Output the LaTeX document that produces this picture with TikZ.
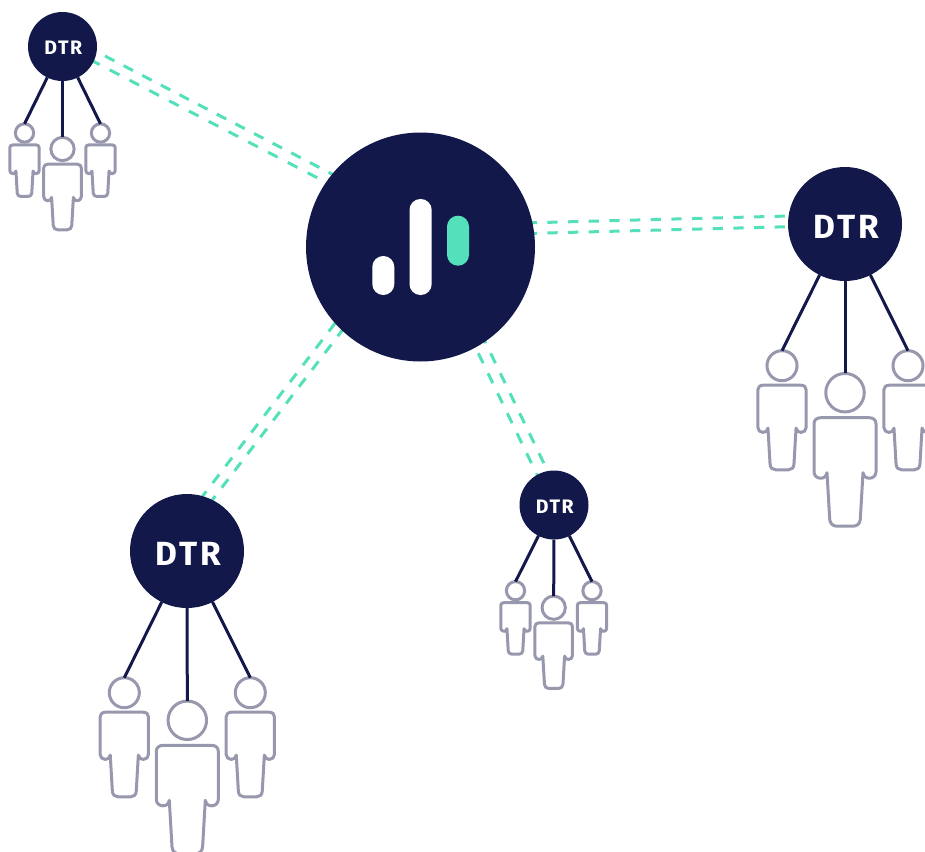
\documentclass[tikz,border=0pt]{standalone}
\usepackage{fontspec}
\newfontfamily\dtrfont[LetterSpace=8]{Fira Sans}
\usetikzlibrary{calc,backgrounds}
\definecolor{navy}{HTML}{13184A}
\definecolor{mint}{HTML}{54E0BA}
\definecolor{person}{HTML}{9797AD}
\newcommand\dtrlabel{\raisebox{-0.08em}[.69em][0pt]{\kern .08em DTR}}
\tikzset{
  hubnode/.style={circle,fill=navy,inner sep=0pt,outer sep=0pt,minimum size=229pt},
  bignode/.style={circle,fill=navy,inner sep=0pt,outer sep=0pt,minimum size=114pt,text=white,font=\dtrfont\bfseries\fontsize{33.5}{34}\selectfont},
  smallnode/.style={circle,fill=navy,inner sep=0pt,outer sep=0pt,minimum size=69pt,text=white,font=\dtrfont\bfseries\fontsize{19.5}{20}\selectfont},
  head/.style={circle,draw=person,line width=3pt,inner sep=0pt,outer sep=0pt},
  bodyline/.style={draw=person,line width=3pt,line join=round},
  tie/.style={draw=navy,line width=3pt},
  linka/.style={draw=mint,line width=3pt,dash pattern=on 10.6pt off 10.4pt},
  linkb/.style={draw=mint,line width=3pt,dash pattern=on 10.8pt off 11.5pt},
  linkc/.style={draw=mint,line width=3pt,dash pattern=on 10.3pt off 10.37pt},
  linkd/.style={draw=mint,line width=3pt,dash pattern=on 10.7pt off 10.5pt},
  linke/.style={draw=mint,line width=3pt,dash pattern=on 11pt off 11.2pt},
}
% name, x, y, scale
\newcommand\personfig[4]{%
  \node[head,minimum size=#4*38.5pt] (#1) at (#2,#3) {};
  \begin{scope}[shift={(#2,#3)},scale=#4]
    \draw[bodyline] (-24,25) -- (24,25) .. controls (28.5,25) and (31,27.5) .. (31,31)
      -- (31,79) .. controls (31,83) and (28,85.5) .. (24.5,85.5)
      .. controls (21,85.5) and (19,84) .. (18,80)
      -- (15.3,126.5) .. controls (15,131) and (12,133.5) .. (8,133.5)
      -- (-8,133.5) .. controls (-12,133.5) and (-15,131) .. (-15.3,126.5)
      -- (-18,80) .. controls (-19,84) and (-21,85.5) .. (-24.5,85.5)
      .. controls (-28,85.5) and (-31,83) .. (-31,79)
      -- (-31,31) .. controls (-31,27.5) and (-28.5,25) .. (-24,25) -- cycle;
  \end{scope}}
\begin{document}
\begin{tikzpicture}[x=1pt,y=-1pt]
\useasboundingbox (0,0) rectangle (925,851);
\clip (0,0) rectangle (925,851);
% nodes
\node[hubnode] (hub) at (420.5,247) {};
\node[smallnode] (tl) at (62.5,46.5) {\dtrlabel};
\node[bignode] (rt) at (845,224) {\dtrlabel};
\node[bignode] (bl) at (187,551) {\dtrlabel};
\node[smallnode] (mid) at (554,505) {\dtrlabel};
% logo bars
\fill[white,rounded corners=10.9pt] (372.3,256) rectangle (394.3,295);
\fill[white,rounded corners=10.9pt] (409.5,199) rectangle (431.7,295);
\fill[mint,rounded corners=10.9pt] (447,215.7) rectangle (469,265.7);
% people
\personfig{tla}{24.5}{133}{0.475}
\personfig{tlb}{62.5}{149}{0.605}
\personfig{tlc}{100.5}{133}{0.475}
\personfig{rta}{782}{365.7}{0.78}
\personfig{rtb}{845}{392.7}{1}
\personfig{rtc}{908}{365.7}{0.78}
\personfig{bla}{124.3}{692.7}{0.78}
\personfig{blb}{187.3}{720.3}{1}
\personfig{blc}{250.3}{692.7}{0.78}
\personfig{mida}{515.5}{590.7}{0.475}
\personfig{midb}{553.7}{607.7}{0.605}
\personfig{midc}{592}{590.7}{0.475}
% ties
\foreach \n/\p in {tl/tla,tl/tlb,tl/tlc,rt/rta,rt/rtb,rt/rtc,bl/bla,bl/blb,bl/blc,mid/mida,mid/midb,mid/midc}
  \draw[tie] (\n) -- (\p.north);
% dashed links, behind the circles
\begin{pgfonlayer}{background}
\draw[linka] ($(tl)+(23.83,-0.2)$) -- ($(hub)+(-75.5,-66.2)$);
\draw[linkb] ($(tl)+(27.5,13.1)$) -- ($(hub)+(-85.5,-60)$);
\draw[linkc] ($(hub)+(106.2,-24.1)$) -- ($(rt)+(-45,-8.3)$);
\draw[linkc] ($(hub)+(106.2,-13.5)$) -- ($(rt)+(-45,2.4)$);
\draw[linkd] ($(bl)+(12.8,-51.2)$) -- ($(hub)+(-79.1,68)$);
\draw[linkd] ($(bl)+(21.8,-46.5)$) -- ($(hub)+(-70.1,72.7)$);
\draw[linke] ($(hub)+(48.2,86.3)$) -- ($(mid)+(-8,-11.7)$);
\draw[linke] ($(hub)+(60.5,86.3)$) -- ($(mid)+(4.4,-11.7)$);
\end{pgfonlayer}
\end{tikzpicture}
\end{document}
